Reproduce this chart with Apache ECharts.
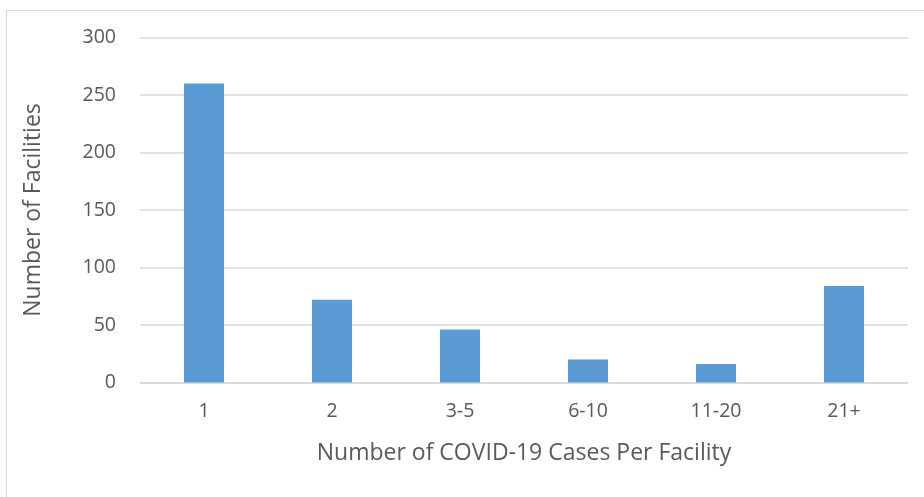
<!DOCTYPE html>
<html>
<head>
<meta charset="utf-8">
<script src="https://cdn.jsdelivr.net/npm/echarts@6/dist/echarts.min.js"></script>
<style>html,body{margin:0;padding:0;background:#fff;}#c{width:924px;height:497px;}</style>
</head>
<body>
<div id="c"></div>
<script>
var categories = ['1', '2', '3-5', '6-10', '11-20', '21+'];
var facilities = [260, 72, 46, 20, 16, 84];
var yTicks = [0, 50, 100, 150, 200, 250, 300];

var chart = echarts.init(document.getElementById('c'));
var font = '"Open Sans", "Liberation Sans", sans-serif';
chart.setOption({
  animation: false,
  backgroundColor: '#fff',
  graphic: [{
    type: 'rect', left: 4, top: 8,
    shape: { width: 940, height: 500 },
    style: { fill: 'none', stroke: '#d9d9d9', lineWidth: 1 }
  }],
  grid: { left: 140, right: 16, top: 37.5, bottom: 114.5 },
  xAxis: {
    type: 'category',
    data: categories,
    axisLine: { show: true, lineStyle: { color: '#d9d9d9', width: 1.5 } },
    axisTick: { show: false },
    axisLabel: { color: '#595959', fontSize: 19.5, fontFamily: font, margin: 19 },
    name: 'Number of COVID-19 Cases Per Facility',
    nameLocation: 'middle',
    nameGap: 59,
    nameTextStyle: { color: '#595959', fontSize: 23, fontFamily: font }
  },
  yAxis: {
    type: 'value',
    min: 0, max: 300, interval: 50,
    axisLine: { show: false },
    axisTick: { show: false },
    axisLabel: { color: '#595959', fontSize: 19.5, fontFamily: font, margin: 24,
      formatter: function (v) { return yTicks.indexOf(v) >= 0 ? String(v) : ''; } },
    splitLine: { lineStyle: { color: '#d9d9d9', width: 1.5 } },
    name: 'Number of Facilities',
    nameLocation: 'middle',
    nameGap: 95,
    nameTextStyle: { color: '#595959', fontSize: 23, fontFamily: font }
  },
  series: [{
    type: 'bar',
    data: facilities,
    barWidth: 40,
    itemStyle: { color: '#5b9bd5' }
  }]
});
</script>
</body>
</html>
